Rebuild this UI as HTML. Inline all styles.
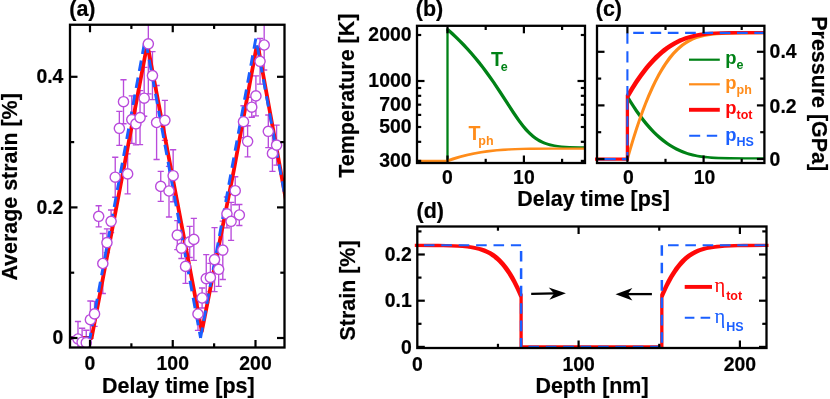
<!DOCTYPE html>
<html><head><meta charset="utf-8"><title>Figure</title>
<style>html,body{margin:0;padding:0;background:#fff;}svg{display:block;transform:translateZ(0);will-change:transform;}text{font-family:"Liberation Sans",sans-serif;}</style></head>
<body>
<svg width="830" height="399" viewBox="0 0 830 399">
<rect x="0" y="0" width="830" height="399" fill="#fff"/>
<clipPath id="ca"><rect x="70" y="24.75" width="214.5" height="322.75"/></clipPath>
<g clip-path="url(#ca)">
<path d="M77.99,321.5V356.5M74.89,321.5H81.09M74.89,356.5H81.09M82.12,328.2V356.2M79.03,328.2H85.22M79.03,356.2H85.22M86.26,330.2V355.2M83.16,330.2H89.36M83.16,355.2H89.36M90.4,301V338.4M87.3,301H93.5M87.3,338.4H93.5M94.54,301.4V326.4M91.44,301.4H97.64M91.44,326.4H97.64M98.68,205.7V226.9M95.58,205.7H101.78M95.58,226.9H101.78M102.81,233.5V293.5M99.71,233.5H105.91M99.71,293.5H105.91M106.95,228.8V252.6M103.85,228.8H110.05M103.85,252.6H110.05M111.09,210V232.6M107.99,210H114.19M107.99,232.6H114.19M115.23,157.2V197.2M112.13,157.2H118.33M112.13,197.2H118.33M119.36,111.3V145.3M116.26,111.3H122.46M116.26,145.3H122.46M123.5,79.7V123.7M120.4,79.7H126.6M120.4,123.7H126.6M127.64,153.9V193.9M124.54,153.9H130.74M124.54,193.9H130.74M131.78,95.8V143.4M128.68,95.8H134.88M128.68,143.4H134.88M135.91,95.8V144.8M132.81,95.8H139.01M132.81,144.8H139.01M140.05,90.6V144.6M136.95,90.6H143.15M136.95,144.6H143.15M144.19,67.4V116.2M141.09,67.4H147.29M141.09,116.2H147.29M148.33,18.8V93.8M145.23,18.8H151.43M145.23,93.8H151.43M152.46,51.6V99.6M149.36,51.6H155.56M149.36,99.6H155.56M156.6,85.5V159.5M153.5,85.5H159.7M153.5,159.5H159.7M160.74,171.4V201.4M157.64,171.4H163.84M157.64,201.4H163.84M164.88,100.3V140.3M161.78,100.3H167.97M161.78,140.3H167.97M169.01,166.4V217M165.91,166.4H172.11M165.91,217H172.11M173.15,149.7V201.7M170.05,149.7H176.25M170.05,201.7H176.25M177.29,220.6V249.6M174.19,220.6H180.39M174.19,249.6H180.39M181.43,234.1V258.5M178.33,234.1H184.53M178.33,258.5H184.53M185.56,249.4V283.4M182.46,249.4H188.66M182.46,283.4H188.66M189.7,226.3V257.5M186.6,226.3H192.8M186.6,257.5H192.8M193.84,218.4V260.4M190.74,218.4H196.94M190.74,260.4H196.94M197.98,297.7V330.3M194.88,297.7H201.08M194.88,330.3H201.08M202.11,288V308M199.01,288H205.21M199.01,308H205.21M206.25,254.6V302.6M203.15,254.6H209.35M203.15,302.6H209.35M210.39,263.4V291.4M207.29,263.4H213.49M207.29,291.4H213.49M214.53,227.6V291.6M211.43,227.6H217.62M211.43,291.6H217.62M218.66,252.3V286.3M215.56,252.3H221.76M215.56,286.3H221.76M222.8,221.1V279.5M219.7,221.1H225.9M219.7,279.5H225.9M226.94,197V227.8M223.84,197H230.04M223.84,227.8H230.04M231.08,202.3V240.3M227.98,202.3H234.18M227.98,240.3H234.18M235.21,176.7V204.7M232.11,176.7H238.31M232.11,204.7H238.31M239.35,204.5V225.5M236.25,204.5H242.45M236.25,225.5H242.45M243.49,105.7V137.7M240.39,105.7H246.59M240.39,137.7H246.59M247.62,125.7V156.9M244.53,125.7H250.72M244.53,156.9H250.72M251.76,97.2V117.2M248.66,97.2H254.86M248.66,117.2H254.86M255.9,75.9V115.9M252.8,75.9H259M252.8,115.9H259M260.04,38.5V84.1M256.94,38.5H263.14M256.94,84.1H263.14M264.18,20V70M261.07,20H267.28M261.07,70H267.28M268.31,115V147.6M265.21,115H271.41M265.21,147.6H271.41M272.45,135.4V171.4M269.35,135.4H275.55M269.35,171.4H275.55M276.59,125.1V165.1M273.49,125.1H279.69M273.49,165.1H279.69" fill="none" stroke="#b94bdc" stroke-width="1.35"/>
<path d="M68,338 L91.6,338 L147.3,44 L201.8,331.5 L233.9,170 L250.4,80 L256.4,47.5 L258.4,48.5 L286,200.3" fill="none" stroke="#ff0808" stroke-width="3.8" stroke-linejoin="round"/>
<path d="M68,338 L90,338 L145.28,38.47" fill="none" stroke="#1a5fff" stroke-width="2.9" stroke-dasharray="10.6 6.7" stroke-dashoffset="0.6" stroke-linejoin="miter"/>
<path d="M145.28,38.47 L200.55,338" fill="none" stroke="#1a5fff" stroke-width="2.9" stroke-dasharray="10.6 6.7" stroke-dashoffset="13.1" stroke-linejoin="miter"/>
<path d="M200.55,338 L255.83,38.47 L288.93,217.83" fill="none" stroke="#1a5fff" stroke-width="2.9" stroke-dasharray="10.6 6.7" stroke-dashoffset="0" stroke-linejoin="miter"/>
<circle cx="77.99" cy="339" r="5.1" fill="#fff" stroke="#b94bdc" stroke-width="1.4"/>
<circle cx="82.12" cy="342.2" r="5.1" fill="#fff" stroke="#b94bdc" stroke-width="1.4"/>
<circle cx="86.26" cy="342.7" r="5.1" fill="#fff" stroke="#b94bdc" stroke-width="1.4"/>
<circle cx="90.4" cy="319.7" r="5.1" fill="#fff" stroke="#b94bdc" stroke-width="1.4"/>
<circle cx="94.54" cy="313.9" r="5.1" fill="#fff" stroke="#b94bdc" stroke-width="1.4"/>
<circle cx="98.68" cy="216.3" r="5.1" fill="#fff" stroke="#b94bdc" stroke-width="1.4"/>
<circle cx="102.81" cy="263.5" r="5.1" fill="#fff" stroke="#b94bdc" stroke-width="1.4"/>
<circle cx="106.95" cy="242.6" r="5.1" fill="#fff" stroke="#b94bdc" stroke-width="1.4"/>
<circle cx="111.09" cy="221.3" r="5.1" fill="#fff" stroke="#b94bdc" stroke-width="1.4"/>
<circle cx="115.23" cy="177.2" r="5.1" fill="#fff" stroke="#b94bdc" stroke-width="1.4"/>
<circle cx="119.36" cy="128.3" r="5.1" fill="#fff" stroke="#b94bdc" stroke-width="1.4"/>
<circle cx="123.5" cy="101.7" r="5.1" fill="#fff" stroke="#b94bdc" stroke-width="1.4"/>
<circle cx="127.64" cy="173.9" r="5.1" fill="#fff" stroke="#b94bdc" stroke-width="1.4"/>
<circle cx="131.78" cy="119.6" r="5.1" fill="#fff" stroke="#b94bdc" stroke-width="1.4"/>
<circle cx="135.91" cy="123.8" r="5.1" fill="#fff" stroke="#b94bdc" stroke-width="1.4"/>
<circle cx="140.05" cy="117.6" r="5.1" fill="#fff" stroke="#b94bdc" stroke-width="1.4"/>
<circle cx="144.19" cy="98.2" r="5.1" fill="#fff" stroke="#b94bdc" stroke-width="1.4"/>
<circle cx="148.33" cy="43.8" r="5.1" fill="#fff" stroke="#b94bdc" stroke-width="1.4"/>
<circle cx="152.46" cy="75.6" r="5.1" fill="#fff" stroke="#b94bdc" stroke-width="1.4"/>
<circle cx="156.6" cy="122.5" r="5.1" fill="#fff" stroke="#b94bdc" stroke-width="1.4"/>
<circle cx="160.74" cy="186.4" r="5.1" fill="#fff" stroke="#b94bdc" stroke-width="1.4"/>
<circle cx="164.88" cy="120.3" r="5.1" fill="#fff" stroke="#b94bdc" stroke-width="1.4"/>
<circle cx="169.01" cy="191" r="5.1" fill="#fff" stroke="#b94bdc" stroke-width="1.4"/>
<circle cx="173.15" cy="175.7" r="5.1" fill="#fff" stroke="#b94bdc" stroke-width="1.4"/>
<circle cx="177.29" cy="235.1" r="5.1" fill="#fff" stroke="#b94bdc" stroke-width="1.4"/>
<circle cx="181.43" cy="248.1" r="5.1" fill="#fff" stroke="#b94bdc" stroke-width="1.4"/>
<circle cx="185.56" cy="266.4" r="5.1" fill="#fff" stroke="#b94bdc" stroke-width="1.4"/>
<circle cx="189.7" cy="241.9" r="5.1" fill="#fff" stroke="#b94bdc" stroke-width="1.4"/>
<circle cx="193.84" cy="239.4" r="5.1" fill="#fff" stroke="#b94bdc" stroke-width="1.4"/>
<circle cx="197.98" cy="314" r="5.1" fill="#fff" stroke="#b94bdc" stroke-width="1.4"/>
<circle cx="202.11" cy="298" r="5.1" fill="#fff" stroke="#b94bdc" stroke-width="1.4"/>
<circle cx="206.25" cy="278.6" r="5.1" fill="#fff" stroke="#b94bdc" stroke-width="1.4"/>
<circle cx="210.39" cy="277.4" r="5.1" fill="#fff" stroke="#b94bdc" stroke-width="1.4"/>
<circle cx="214.53" cy="259.6" r="5.1" fill="#fff" stroke="#b94bdc" stroke-width="1.4"/>
<circle cx="218.66" cy="269.3" r="5.1" fill="#fff" stroke="#b94bdc" stroke-width="1.4"/>
<circle cx="222.8" cy="250.1" r="5.1" fill="#fff" stroke="#b94bdc" stroke-width="1.4"/>
<circle cx="226.94" cy="213.8" r="5.1" fill="#fff" stroke="#b94bdc" stroke-width="1.4"/>
<circle cx="231.08" cy="221.3" r="5.1" fill="#fff" stroke="#b94bdc" stroke-width="1.4"/>
<circle cx="235.21" cy="190.7" r="5.1" fill="#fff" stroke="#b94bdc" stroke-width="1.4"/>
<circle cx="239.35" cy="215" r="5.1" fill="#fff" stroke="#b94bdc" stroke-width="1.4"/>
<circle cx="243.49" cy="121.7" r="5.1" fill="#fff" stroke="#b94bdc" stroke-width="1.4"/>
<circle cx="247.62" cy="141.3" r="5.1" fill="#fff" stroke="#b94bdc" stroke-width="1.4"/>
<circle cx="251.76" cy="107.2" r="5.1" fill="#fff" stroke="#b94bdc" stroke-width="1.4"/>
<circle cx="255.9" cy="95.9" r="5.1" fill="#fff" stroke="#b94bdc" stroke-width="1.4"/>
<circle cx="260.04" cy="61.3" r="5.1" fill="#fff" stroke="#b94bdc" stroke-width="1.4"/>
<circle cx="264.18" cy="45" r="5.1" fill="#fff" stroke="#b94bdc" stroke-width="1.4"/>
<circle cx="268.31" cy="131.3" r="5.1" fill="#fff" stroke="#b94bdc" stroke-width="1.4"/>
<circle cx="272.45" cy="153.4" r="5.1" fill="#fff" stroke="#b94bdc" stroke-width="1.4"/>
<circle cx="276.59" cy="145.1" r="5.1" fill="#fff" stroke="#b94bdc" stroke-width="1.4"/>
</g>
<rect x="70" y="24.75" width="214.5" height="322.75" fill="none" stroke="#000" stroke-width="2.3"/>
<line x1="90" y1="347.5" x2="90" y2="340" stroke="#000" stroke-width="2.2" />
<line x1="90" y1="24.75" x2="90" y2="32.25" stroke="#000" stroke-width="2.2" />
<line x1="172.75" y1="347.5" x2="172.75" y2="340" stroke="#000" stroke-width="2.2" />
<line x1="172.75" y1="24.75" x2="172.75" y2="32.25" stroke="#000" stroke-width="2.2" />
<line x1="255.5" y1="347.5" x2="255.5" y2="340" stroke="#000" stroke-width="2.2" />
<line x1="255.5" y1="24.75" x2="255.5" y2="32.25" stroke="#000" stroke-width="2.2" />
<line x1="131.38" y1="347.5" x2="131.38" y2="343.3" stroke="#000" stroke-width="2.2" />
<line x1="131.38" y1="24.75" x2="131.38" y2="28.95" stroke="#000" stroke-width="2.2" />
<line x1="214.12" y1="347.5" x2="214.12" y2="343.3" stroke="#000" stroke-width="2.2" />
<line x1="214.12" y1="24.75" x2="214.12" y2="28.95" stroke="#000" stroke-width="2.2" />
<line x1="70" y1="338" x2="77.5" y2="338" stroke="#000" stroke-width="2.2" />
<line x1="284.5" y1="338" x2="277" y2="338" stroke="#000" stroke-width="2.2" />
<line x1="70" y1="207.4" x2="77.5" y2="207.4" stroke="#000" stroke-width="2.2" />
<line x1="284.5" y1="207.4" x2="277" y2="207.4" stroke="#000" stroke-width="2.2" />
<line x1="70" y1="76.8" x2="77.5" y2="76.8" stroke="#000" stroke-width="2.2" />
<line x1="284.5" y1="76.8" x2="277" y2="76.8" stroke="#000" stroke-width="2.2" />
<line x1="70" y1="272.7" x2="74.2" y2="272.7" stroke="#000" stroke-width="2.2" />
<line x1="284.5" y1="272.7" x2="280.3" y2="272.7" stroke="#000" stroke-width="2.2" />
<line x1="70" y1="142.1" x2="74.2" y2="142.1" stroke="#000" stroke-width="2.2" />
<line x1="284.5" y1="142.1" x2="280.3" y2="142.1" stroke="#000" stroke-width="2.2" />
<text x="90" y="370" font-size="19.4" text-anchor="middle" fill="#000" stroke="#000" stroke-width="0.2" font-weight="bold" font-family="Liberation Sans" >0</text>
<text x="172.75" y="370" font-size="19.4" text-anchor="middle" fill="#000" stroke="#000" stroke-width="0.2" font-weight="bold" font-family="Liberation Sans" >100</text>
<text x="255.5" y="370" font-size="19.4" text-anchor="middle" fill="#000" stroke="#000" stroke-width="0.2" font-weight="bold" font-family="Liberation Sans" >200</text>
<text x="63.4" y="343.9" font-size="19.4" text-anchor="end" fill="#000" stroke="#000" stroke-width="0.2" font-weight="bold" font-family="Liberation Sans" >0</text>
<text x="63.4" y="214.4" font-size="19.4" text-anchor="end" fill="#000" stroke="#000" stroke-width="0.2" font-weight="bold" font-family="Liberation Sans" >0.2</text>
<text x="63.4" y="82.8" font-size="19.4" text-anchor="end" fill="#000" stroke="#000" stroke-width="0.2" font-weight="bold" font-family="Liberation Sans" >0.4</text>
<text x="69.3" y="15.7" font-size="21.45" text-anchor="start" fill="#000" stroke="#000" stroke-width="0.2" font-weight="bold" font-family="Liberation Sans" >(a)</text>
<text x="178.3" y="393.3" font-size="21.45" text-anchor="middle" fill="#000" stroke="#000" stroke-width="0.2" font-weight="bold" font-family="Liberation Sans" >Delay time [ps]</text>
<text transform="translate(17.1,186.9) rotate(-90)" font-size="21.45" text-anchor="middle" font-weight="bold" font-family="Liberation Sans" fill="#000" stroke="#000" stroke-width="0.2">Average strain [%]</text>
<clipPath id="cb"><rect x="417" y="25.8" width="168" height="137.2"/></clipPath>
<g clip-path="url(#cb)">
<path d="M447.5,161 V29.31" fill="none" stroke="#008216" stroke-width="2.3"/>
<path d="M446.32,28.13L448.68,28.13L453.26,32.28L453.26,34.63L450.91,34.63L446.32,30.48ZM450.91,32.28L453.26,32.28L457.08,35.89L457.08,38.24L454.73,38.24L450.91,34.63ZM454.73,35.89L457.08,35.89L460.9,39.65L460.9,42L458.55,42L454.73,38.24ZM458.55,39.65L460.9,39.65L464.72,43.58L464.72,45.93L462.37,45.93L458.55,42ZM462.37,43.58L464.72,43.58L468.54,47.68L468.54,50.03L466.19,50.03L462.37,45.93ZM466.19,47.68L468.54,47.68L472.36,51.96L472.36,54.31L470.01,54.31L466.19,50.03ZM470.01,51.96L472.36,51.96L476.18,56.43L476.18,58.78L473.83,58.78L470.01,54.31ZM473.83,56.43L476.18,56.43L480,61.1L480,63.45L477.65,63.45L473.83,58.78ZM477.65,61.1L480,61.1L483.82,65.98L483.82,68.33L481.47,68.33L477.65,63.45ZM481.47,65.98L483.82,65.98L486.88,70.04L486.88,72.39L484.52,72.39L481.47,68.33ZM484.52,70.04L486.88,70.04L490.69,75.29L490.69,77.64L488.34,77.64L484.52,72.39ZM488.34,75.29L490.69,75.29L494.51,80.75L494.51,83.1L492.16,83.1L488.34,77.64ZM492.16,80.75L494.51,80.75L501.39,91.03L501.39,93.38L499.04,93.38L492.16,83.1ZM499.04,91.03L501.39,91.03L514.38,111.06L514.38,113.41L512.03,113.41L499.04,93.38ZM512.03,111.06L514.38,111.06L517.43,115.58L517.43,117.93L515.09,117.93L512.03,113.41ZM515.09,115.58L517.43,115.58L520.49,119.91L520.49,122.26L518.14,122.26L515.09,117.93ZM518.14,119.91L520.49,119.91L524.31,124.92L524.31,127.27L521.96,127.27L518.14,122.26ZM521.96,124.92L524.31,124.92L527.37,128.54L527.37,130.89L525.02,130.89L521.96,127.27ZM525.02,128.54L527.37,128.54L529.66,131L529.66,133.35L527.31,133.35L525.02,130.89ZM527.31,131L529.66,131L531.19,132.52L531.19,134.87L528.84,134.87L527.31,133.35ZM528.84,132.52L531.19,132.52L534.24,135.23L534.24,137.58L531.89,137.58L528.84,134.87ZM531.89,135.23L534.24,135.23L536.53,136.99L536.53,139.34L534.19,139.34L531.89,137.58ZM534.19,136.99L536.53,136.99L538.83,138.52L538.83,140.87L536.48,140.87L534.19,139.34ZM536.48,138.52L538.83,138.52L541.12,139.85L541.12,142.2L538.77,142.2L536.48,140.87ZM538.77,139.85L541.12,139.85L543.41,140.98L543.41,143.33L541.06,143.33L538.77,142.2ZM541.06,140.98L543.41,140.98L545.7,141.94L545.7,144.29L543.35,144.29L541.06,143.33ZM543.35,141.94L545.7,141.94L548.76,142.99L548.76,145.34L546.41,145.34L543.35,144.29ZM546.41,142.99L548.76,142.99L551.81,143.81L551.81,146.16L549.47,146.16L546.41,145.34ZM549.47,143.81L551.81,143.81L554.87,144.45L554.87,146.8L552.52,146.8L549.47,146.16ZM552.52,144.45L554.87,144.45L557.93,144.94L557.93,147.29L555.58,147.29L552.52,146.8ZM555.58,144.94L557.93,144.94L561.75,145.39L561.75,147.74L559.4,147.74L555.58,147.29ZM559.4,145.39L561.75,145.39L565.57,145.71L565.57,148.06L563.22,148.06L559.4,147.74ZM563.22,145.71L565.57,145.71L569.39,145.94L569.39,148.29L567.04,148.29L563.22,148.06ZM567.04,145.94L569.39,145.94L579.32,146.27L579.32,148.62L576.97,148.62L567.04,148.29ZM576.97,146.27L579.32,146.27L593.83,146.43L593.83,148.78L591.49,148.78L576.97,148.62Z" fill="#008216" stroke="none"/>
<path d="M413.82,159.72L448.68,159.72L448.68,162.07L413.82,162.07ZM446.32,159.72L452.44,157.6L454.79,157.6L454.79,159.95L448.68,162.07L446.32,162.07ZM452.44,157.6L458.55,155.75L460.9,155.75L460.9,158.1L454.79,159.95L452.44,159.95ZM458.55,155.75L465.43,153.97L467.78,153.97L467.78,156.32L460.9,158.1L458.55,158.1ZM465.43,153.97L472.3,152.47L474.65,152.47L474.65,154.82L467.78,156.32L465.43,156.32ZM472.3,152.47L479.18,151.22L481.53,151.22L481.53,153.57L474.65,154.82L472.3,154.82ZM479.18,151.22L486.82,150.11L489.17,150.11L489.17,152.46L481.53,153.57L479.18,153.57ZM486.82,150.11L494.46,149.24L496.81,149.24L496.81,151.59L489.17,152.46L486.82,152.46ZM494.46,149.24L502.86,148.54L505.21,148.54L505.21,150.89L496.81,151.59L494.46,151.59ZM502.86,148.54L508.97,148.18L511.32,148.18L511.32,150.53L505.21,150.89L502.86,150.89ZM508.97,148.18L515.09,147.91L517.43,147.91L517.43,150.26L511.32,150.53L508.97,150.53ZM515.09,147.91L521.96,147.71L524.31,147.71L524.31,150.06L517.43,150.26L515.09,150.26ZM521.96,147.71L530.37,147.56L532.71,147.56L532.71,149.91L524.31,150.06L521.96,150.06ZM530.37,147.56L549.47,147.44L551.81,147.44L551.81,149.79L532.71,149.91L530.37,149.91ZM549.47,147.44L591.49,147.41L593.83,147.41L593.83,149.76L551.81,149.79L549.47,149.79Z" fill="#ff8c1a" stroke="none"/>
</g>
<rect x="417" y="25.8" width="168" height="137.2" fill="none" stroke="#000" stroke-width="2.3"/>
<line x1="447.5" y1="163" x2="447.5" y2="155.5" stroke="#000" stroke-width="2.2" />
<line x1="447.5" y1="25.8" x2="447.5" y2="33.3" stroke="#000" stroke-width="2.2" />
<line x1="523.9" y1="163" x2="523.9" y2="155.5" stroke="#000" stroke-width="2.2" />
<line x1="523.9" y1="25.8" x2="523.9" y2="33.3" stroke="#000" stroke-width="2.2" />
<line x1="485.7" y1="163" x2="485.7" y2="158.8" stroke="#000" stroke-width="2.2" />
<line x1="485.7" y1="25.8" x2="485.7" y2="30" stroke="#000" stroke-width="2.2" />
<line x1="562.1" y1="163" x2="562.1" y2="158.8" stroke="#000" stroke-width="2.2" />
<line x1="562.1" y1="25.8" x2="562.1" y2="30" stroke="#000" stroke-width="2.2" />
<line x1="417" y1="81" x2="424.5" y2="81" stroke="#000" stroke-width="2.2" />
<line x1="585" y1="81" x2="577.5" y2="81" stroke="#000" stroke-width="2.2" />
<line x1="417" y1="35" x2="421.2" y2="35" stroke="#000" stroke-width="2.2" />
<line x1="585" y1="35" x2="580.8" y2="35" stroke="#000" stroke-width="2.2" />
<line x1="417" y1="87.99" x2="421.2" y2="87.99" stroke="#000" stroke-width="2.2" />
<line x1="585" y1="87.99" x2="580.8" y2="87.99" stroke="#000" stroke-width="2.2" />
<line x1="417" y1="95.81" x2="421.2" y2="95.81" stroke="#000" stroke-width="2.2" />
<line x1="585" y1="95.81" x2="580.8" y2="95.81" stroke="#000" stroke-width="2.2" />
<line x1="417" y1="104.67" x2="421.2" y2="104.67" stroke="#000" stroke-width="2.2" />
<line x1="585" y1="104.67" x2="580.8" y2="104.67" stroke="#000" stroke-width="2.2" />
<line x1="417" y1="114.9" x2="421.2" y2="114.9" stroke="#000" stroke-width="2.2" />
<line x1="585" y1="114.9" x2="580.8" y2="114.9" stroke="#000" stroke-width="2.2" />
<line x1="417" y1="127" x2="421.2" y2="127" stroke="#000" stroke-width="2.2" />
<line x1="585" y1="127" x2="580.8" y2="127" stroke="#000" stroke-width="2.2" />
<line x1="417" y1="141.81" x2="421.2" y2="141.81" stroke="#000" stroke-width="2.2" />
<line x1="585" y1="141.81" x2="580.8" y2="141.81" stroke="#000" stroke-width="2.2" />
<line x1="417" y1="160.9" x2="421.2" y2="160.9" stroke="#000" stroke-width="2.2" />
<line x1="585" y1="160.9" x2="580.8" y2="160.9" stroke="#000" stroke-width="2.2" />
<text x="411.5" y="41" font-size="19.4" text-anchor="end" fill="#000" stroke="#000" stroke-width="0.2" font-weight="bold" font-family="Liberation Sans" >2000</text>
<text x="411.5" y="87" font-size="19.4" text-anchor="end" fill="#000" stroke="#000" stroke-width="0.2" font-weight="bold" font-family="Liberation Sans" >1000</text>
<text x="411.5" y="110.67" font-size="19.4" text-anchor="end" fill="#000" stroke="#000" stroke-width="0.2" font-weight="bold" font-family="Liberation Sans" >700</text>
<text x="411.5" y="133" font-size="19.4" text-anchor="end" fill="#000" stroke="#000" stroke-width="0.2" font-weight="bold" font-family="Liberation Sans" >500</text>
<text x="411.5" y="166.9" font-size="19.4" text-anchor="end" fill="#000" stroke="#000" stroke-width="0.2" font-weight="bold" font-family="Liberation Sans" >300</text>
<text x="447.5" y="183.6" font-size="19.4" text-anchor="middle" fill="#000" stroke="#000" stroke-width="0.2" font-weight="bold" font-family="Liberation Sans" >0</text>
<text x="523.9" y="183.6" font-size="19.4" text-anchor="middle" fill="#000" stroke="#000" stroke-width="0.2" font-weight="bold" font-family="Liberation Sans" >10</text>
<text x="415.8" y="15.9" font-size="21.45" text-anchor="start" fill="#000" stroke="#000" stroke-width="0.2" font-weight="bold" font-family="Liberation Sans" >(b)</text>
<text transform="translate(354.1,95.7) rotate(-90)" font-size="21.45" text-anchor="middle" font-weight="bold" font-family="Liberation Sans" fill="#000" stroke="#000" stroke-width="0.2">Temperature [K]</text>
<text x="593.6" y="205.8" font-size="21.45" text-anchor="middle" fill="#000" stroke="#000" stroke-width="0.2" font-weight="bold" font-family="Liberation Sans" >Delay time [ps]</text>
<text x="491" y="65.9" fill="#008216" font-family="Liberation Sans" font-weight="bold" font-size="19.6"><tspan font-family="Liberation Sans" font-weight="bold">T</tspan><tspan dx="-2.1" dy="4.8" font-size="12.5">e</tspan></text>
<text x="468.4" y="139.85" fill="#ff8c1a" font-family="Liberation Sans" font-weight="bold" font-size="19.6"><tspan font-family="Liberation Sans" font-weight="bold">T</tspan><tspan dx="-2.1" dy="4.8" font-size="12.5">ph</tspan></text>
<clipPath id="cc"><rect x="595" y="25.8" width="169.4" height="137.2"/></clipPath>
<g clip-path="url(#cc)">
<path d="M626.23,95.38L628.57,95.38L631.62,100.44L631.62,102.79L629.27,102.79L626.23,97.73ZM629.27,100.44L631.62,100.44L634.67,105.24L634.67,107.59L632.32,107.59L629.27,102.79ZM632.32,105.24L634.67,105.24L637.72,109.79L637.72,112.14L635.37,112.14L632.32,107.59ZM635.37,109.79L637.72,109.79L641.53,115.12L641.53,117.47L639.18,117.47L635.37,112.14ZM639.18,115.12L641.53,115.12L644.58,119.11L644.58,121.46L642.23,121.46L639.18,117.47ZM642.23,119.11L644.58,119.11L647.62,122.86L647.62,125.21L645.27,125.21L642.23,121.46ZM645.27,122.86L647.62,122.86L650.67,126.37L650.67,128.72L648.32,128.72L645.27,125.21ZM648.32,126.37L650.67,126.37L654.48,130.43L654.48,132.78L652.13,132.78L648.32,128.72ZM652.13,130.43L654.48,130.43L657.53,133.42L657.53,135.77L655.18,135.77L652.13,132.78ZM655.18,133.42L657.53,133.42L661.34,136.85L661.34,139.2L658.99,139.2L655.18,135.77ZM658.99,136.85L661.34,136.85L664.39,139.35L664.39,141.7L662.04,141.7L658.99,139.2ZM662.04,139.35L664.39,139.35L668.2,142.18L668.2,144.53L665.85,144.53L662.04,141.7ZM665.85,142.18L668.2,142.18L671.25,144.21L671.25,146.56L668.9,146.56L665.85,144.53ZM668.9,144.21L671.25,144.21L675.06,146.48L675.06,148.83L672.71,148.83L668.9,146.56ZM672.71,146.48L675.06,146.48L678.1,148.09L678.1,150.44L675.75,150.44L672.71,148.83ZM675.75,148.09L678.1,148.09L681.91,149.85L681.91,152.2L679.57,152.2L675.75,150.44ZM679.57,149.85L681.91,149.85L684.96,151.07L684.96,153.42L682.61,153.42L679.57,152.2ZM682.61,151.07L684.96,151.07L688.01,152.14L688.01,154.49L685.66,154.49L682.61,153.42ZM685.66,152.14L688.01,152.14L691.06,153.06L691.06,155.41L688.71,155.41L685.66,154.49ZM688.71,153.06L691.06,153.06L694.87,154.03L694.87,156.38L692.52,156.38L688.71,155.41ZM692.52,154.03L694.87,154.03L697.92,154.66L697.92,157.01L695.57,157.01L692.52,156.38ZM695.57,154.66L697.92,154.66L701.73,155.31L701.73,157.66L699.38,157.66L695.57,157.01ZM699.38,155.31L701.73,155.31L705.54,155.82L705.54,158.17L703.19,158.17L699.38,157.66ZM703.19,155.82L705.54,155.82L710.11,156.27L710.11,158.62L707.76,158.62L703.19,158.17ZM707.76,156.27L710.11,156.27L713.92,156.54L713.92,158.89L711.57,158.89L707.76,158.62ZM711.57,156.54L713.92,156.54L718.49,156.78L718.49,159.13L716.14,159.13L711.57,158.89ZM716.14,156.78L718.49,156.78L729.92,157.09L729.92,159.44L727.57,159.44L716.14,159.13ZM727.57,157.09L729.92,157.09L745.16,157.22L745.16,159.57L742.81,159.57L727.57,159.44ZM742.81,157.22L745.16,157.22L773.35,157.26L773.35,159.61L771,159.61L742.81,159.57Z" fill="#008216" stroke="none"/>
<path d="M626.23,157.82L629.16,147.54L631.51,147.54L631.51,149.89L628.57,160.18L626.23,160.18ZM629.16,147.54L632.09,137.78L634.44,137.78L634.44,140.13L631.51,149.89L629.16,149.89ZM632.09,137.78L635.02,128.54L637.37,128.54L637.37,130.89L634.44,140.13L632.09,140.13ZM635.02,128.54L638.68,117.69L641.03,117.69L641.03,120.04L637.37,130.89L635.02,130.89ZM638.68,117.69L641.61,109.58L643.96,109.58L643.96,111.93L641.03,120.04L638.68,120.04ZM641.61,109.58L644.54,101.96L646.89,101.96L646.89,104.31L643.96,111.93L641.61,111.93ZM644.54,101.96L647.47,94.82L649.82,94.82L649.82,97.17L646.89,104.31L644.54,104.31ZM647.47,94.82L651.14,86.56L653.49,86.56L653.49,88.91L649.82,97.17L647.47,97.17ZM651.14,86.56L654.07,80.48L656.42,80.48L656.42,82.83L653.49,88.91L651.14,88.91ZM654.07,80.48L657.73,73.51L660.08,73.51L660.08,75.86L656.42,82.83L654.07,82.83ZM657.73,73.51L660.66,68.43L663.01,68.43L663.01,70.78L660.08,75.86L657.73,75.86ZM660.66,68.43L662.13,66.05L664.48,66.05L664.48,68.4L663.01,70.78L660.66,70.78ZM662.13,66.05L664.33,62.67L666.67,62.67L666.67,65.02L664.48,68.4L662.13,68.4ZM664.33,62.67L667.26,58.54L669.61,58.54L669.61,60.89L666.67,65.02L664.33,65.02ZM667.26,58.54L668.72,56.62L671.07,56.62L671.07,58.97L669.61,60.89L667.26,60.89ZM668.72,56.62L670.92,53.92L673.27,53.92L673.27,56.27L671.07,58.97L668.72,58.97ZM670.92,53.92L672.38,52.24L674.73,52.24L674.73,54.59L673.27,56.27L670.92,56.27ZM672.38,52.24L674.58,49.89L676.93,49.89L676.93,52.24L674.73,54.59L672.38,54.59ZM674.58,49.89L676.05,48.44L678.4,48.44L678.4,50.79L676.93,52.24L674.58,52.24ZM676.05,48.44L678.25,46.42L680.6,46.42L680.6,48.77L678.4,50.79L676.05,50.79ZM678.25,46.42L681.18,44.01L683.53,44.01L683.53,46.36L680.6,48.77L678.25,48.77ZM681.18,44.01L684.11,41.92L686.46,41.92L686.46,44.27L683.53,46.36L681.18,46.36ZM684.11,41.92L687.04,40.12L689.39,40.12L689.39,42.47L686.46,44.27L684.11,44.27ZM687.04,40.12L688.5,39.32L690.85,39.32L690.85,41.67L689.39,42.47L687.04,42.47ZM688.5,39.32L690.7,38.24L693.05,38.24L693.05,40.59L690.85,41.67L688.5,41.67ZM690.7,38.24L694.37,36.72L696.72,36.72L696.72,39.07L693.05,40.59L690.7,40.59ZM694.37,36.72L698.03,35.53L700.38,35.53L700.38,37.88L696.72,39.07L694.37,39.07ZM698.03,35.53L701.69,34.6L704.04,34.6L704.04,36.95L700.38,37.88L698.03,37.88ZM701.69,34.6L706.09,33.78L708.44,33.78L708.44,36.13L704.04,36.95L701.69,36.95ZM706.09,33.78L709.75,33.28L712.1,33.28L712.1,35.63L708.44,36.13L706.09,36.13ZM709.75,33.28L714.15,32.85L716.5,32.85L716.5,35.2L712.1,35.63L709.75,35.63ZM714.15,32.85L719.28,32.53L721.63,32.53L721.63,34.88L716.5,35.2L714.15,35.2ZM719.28,32.53L725.14,32.3L727.49,32.3L727.49,34.65L721.63,34.88L719.28,34.88ZM725.14,32.3L731.73,32.15L734.08,32.15L734.08,34.5L727.49,34.65L725.14,34.65ZM731.73,32.15L740.52,32.06L742.87,32.06L742.87,34.41L734.08,34.5L731.73,34.5ZM740.52,32.06L768.83,32L771.17,32L771.17,34.35L742.87,34.41L740.52,34.41Z" fill="#ff8c1a" stroke="none"/>
<path d="M593.85,157.45L629.05,157.45L629.05,160.75L593.85,160.75ZM625.75,94.91L629.05,94.91L629.05,160.75L625.75,160.75ZM625.75,94.91L630.32,87.17L633.62,87.17L633.62,90.47L629.05,98.21L625.75,98.21ZM630.32,87.17L634.89,80.02L638.19,80.02L638.19,83.32L633.62,90.47L630.32,90.47ZM634.89,80.02L637.18,76.67L640.48,76.67L640.48,79.97L638.19,83.32L634.89,83.32ZM637.18,76.67L639.47,73.46L642.77,73.46L642.77,76.76L640.48,79.97L637.18,79.97ZM639.47,73.46L641.75,70.39L645.05,70.39L645.05,73.69L642.77,76.76L639.47,76.76ZM641.75,70.39L644.8,66.52L648.1,66.52L648.1,69.82L645.05,73.69L641.75,73.69ZM644.8,66.52L647.09,63.77L650.39,63.77L650.39,67.07L648.1,69.82L644.8,69.82ZM647.09,63.77L649.37,61.16L652.67,61.16L652.67,64.46L650.39,67.07L647.09,67.07ZM649.37,61.16L651.66,58.69L654.96,58.69L654.96,61.99L652.67,64.46L649.37,64.46ZM651.66,58.69L654.71,55.6L658.01,55.6L658.01,58.9L654.96,61.99L651.66,61.99ZM654.71,55.6L656.99,53.43L660.29,53.43L660.29,56.73L658.01,58.9L654.71,58.9ZM656.99,53.43L660.04,50.74L663.34,50.74L663.34,54.04L660.29,56.73L656.99,56.73ZM660.04,50.74L662.33,48.86L665.63,48.86L665.63,52.16L663.34,54.04L660.04,54.04ZM662.33,48.86L665.37,46.55L668.67,46.55L668.67,49.85L665.63,52.16L662.33,52.16ZM665.37,46.55L669.18,43.95L672.48,43.95L672.48,47.25L668.67,49.85L665.37,49.85ZM669.18,43.95L672.99,41.67L676.29,41.67L676.29,44.97L672.48,47.25L669.18,47.25ZM672.99,41.67L676.8,39.68L680.1,39.68L680.1,42.98L676.29,44.97L672.99,44.97ZM676.8,39.68L679.09,38.62L682.39,38.62L682.39,41.92L680.1,42.98L676.8,42.98ZM679.09,38.62L681.38,37.66L684.68,37.66L684.68,40.96L682.39,41.92L679.09,41.92ZM681.38,37.66L685.19,36.26L688.49,36.26L688.49,39.56L684.68,40.96L681.38,40.96ZM685.19,36.26L689.76,34.88L693.06,34.88L693.06,38.18L688.49,39.56L685.19,39.56ZM689.76,34.88L694.33,33.8L697.63,33.8L697.63,37.1L693.06,38.18L689.76,38.18ZM694.33,33.8L699.66,32.87L702.96,32.87L702.96,36.17L697.63,37.1L694.33,37.1ZM699.66,32.87L704.24,32.28L707.54,32.28L707.54,35.58L702.96,36.17L699.66,36.17ZM704.24,32.28L709.57,31.81L712.87,31.81L712.87,35.11L707.54,35.58L704.24,35.58ZM709.57,31.81L714.9,31.49L718.2,31.49L718.2,34.79L712.87,35.11L709.57,35.11ZM714.9,31.49L721.76,31.25L725.06,31.25L725.06,34.55L718.2,34.79L714.9,34.79ZM721.76,31.25L729.38,31.1L732.68,31.1L732.68,34.4L725.06,34.55L721.76,34.55ZM729.38,31.1L738.53,31.02L741.83,31.02L741.83,34.32L732.68,34.4L729.38,34.4ZM738.53,31.02L770.53,30.96L773.83,30.96L773.83,34.26L741.83,34.32L738.53,34.32Z" fill="#ff0808" stroke="none"/>
<path d="M597,159.1H615.7M622,159.1H627.4M627.4,159.1V152M627.4,145.5V134.2M627.4,126.7V116.3M627.4,109.7V98.5M627.4,95.5V86.1M627.4,80.5V69.2M627.4,62.6V51.3M627.4,43.8V32.9M633.2,32.9H643.9M650.5,32.9H661.2M667.8,32.9H678.5M685.1,32.9H695.8M702.4,32.9H713.1M719.7,32.9H730.4M737,32.9H747.7M754.3,32.9H765" fill="none" stroke="#1a5fff" stroke-width="2.1"/>
</g>
<rect x="597" y="25.8" width="167.4" height="137.2" fill="none" stroke="#000" stroke-width="2.3"/>
<line x1="627.4" y1="163" x2="627.4" y2="155.5" stroke="#000" stroke-width="2.2" />
<line x1="627.4" y1="25.8" x2="627.4" y2="33.3" stroke="#000" stroke-width="2.2" />
<line x1="703.6" y1="163" x2="703.6" y2="155.5" stroke="#000" stroke-width="2.2" />
<line x1="703.6" y1="25.8" x2="703.6" y2="33.3" stroke="#000" stroke-width="2.2" />
<line x1="665.5" y1="163" x2="665.5" y2="158.8" stroke="#000" stroke-width="2.2" />
<line x1="665.5" y1="25.8" x2="665.5" y2="30" stroke="#000" stroke-width="2.2" />
<line x1="741.7" y1="163" x2="741.7" y2="158.8" stroke="#000" stroke-width="2.2" />
<line x1="741.7" y1="25.8" x2="741.7" y2="30" stroke="#000" stroke-width="2.2" />
<line x1="597" y1="159" x2="604.5" y2="159" stroke="#000" stroke-width="2.2" />
<line x1="764.4" y1="159" x2="756.9" y2="159" stroke="#000" stroke-width="2.2" />
<line x1="597" y1="105.4" x2="604.5" y2="105.4" stroke="#000" stroke-width="2.2" />
<line x1="764.4" y1="105.4" x2="756.9" y2="105.4" stroke="#000" stroke-width="2.2" />
<line x1="597" y1="51.8" x2="604.5" y2="51.8" stroke="#000" stroke-width="2.2" />
<line x1="764.4" y1="51.8" x2="756.9" y2="51.8" stroke="#000" stroke-width="2.2" />
<line x1="597" y1="132.2" x2="601.2" y2="132.2" stroke="#000" stroke-width="2.2" />
<line x1="764.4" y1="132.2" x2="760.2" y2="132.2" stroke="#000" stroke-width="2.2" />
<line x1="597" y1="78.6" x2="601.2" y2="78.6" stroke="#000" stroke-width="2.2" />
<line x1="764.4" y1="78.6" x2="760.2" y2="78.6" stroke="#000" stroke-width="2.2" />
<text x="628.4" y="183.6" font-size="19.4" text-anchor="middle" fill="#000" stroke="#000" stroke-width="0.2" font-weight="bold" font-family="Liberation Sans" >0</text>
<text x="704.6" y="183.6" font-size="19.4" text-anchor="middle" fill="#000" stroke="#000" stroke-width="0.2" font-weight="bold" font-family="Liberation Sans" >10</text>
<text x="769.6" y="165.7" font-size="19.4" text-anchor="start" fill="#000" stroke="#000" stroke-width="0.2" font-weight="bold" font-family="Liberation Sans" >0</text>
<text x="769.6" y="112.6" font-size="19.4" text-anchor="start" fill="#000" stroke="#000" stroke-width="0.2" font-weight="bold" font-family="Liberation Sans" >0.2</text>
<text x="769.6" y="57.7" font-size="19.4" text-anchor="start" fill="#000" stroke="#000" stroke-width="0.2" font-weight="bold" font-family="Liberation Sans" >0.4</text>
<text x="595.8" y="15.9" font-size="21.45" text-anchor="start" fill="#000" stroke="#000" stroke-width="0.2" font-weight="bold" font-family="Liberation Sans" >(c)</text>
<text transform="translate(812.4,93.7) rotate(90)" font-size="21.45" text-anchor="middle" font-weight="bold" font-family="Liberation Sans" fill="#000" stroke="#000" stroke-width="0.2">Pressure [GPa]</text>
<line x1="689" y1="59.7" x2="719.8" y2="59.7" stroke="#008216" stroke-width="2.2" />
<line x1="689" y1="84.3" x2="719.8" y2="84.3" stroke="#ff8c1a" stroke-width="2.2" />
<line x1="689" y1="109.8" x2="719.8" y2="109.8" stroke="#ff0808" stroke-width="3.9" />
<path d="M689.2,135.8H700.2M706.8,135.8H717.2" stroke="#1a5fff" stroke-width="2.1" fill="none"/>
<text x="725.3" y="64" fill="#008216" font-family="Liberation Sans" font-weight="bold" font-size="18.4"><tspan font-family="Liberation Sans" font-weight="bold">p</tspan><tspan dx="0" dy="4.8" font-size="12.5">e</tspan></text>
<text x="725.3" y="89.2" fill="#ff8c1a" font-family="Liberation Sans" font-weight="bold" font-size="18.4"><tspan font-family="Liberation Sans" font-weight="bold">p</tspan><tspan dx="0" dy="4.8" font-size="12.5">ph</tspan></text>
<text x="725.3" y="114.4" fill="#ff0808" font-family="Liberation Sans" font-weight="bold" font-size="18.4"><tspan font-family="Liberation Sans" font-weight="bold">p</tspan><tspan dx="0" dy="4.8" font-size="12.5">tot</tspan></text>
<text x="725.3" y="140.7" fill="#1a5fff" font-family="Liberation Sans" font-weight="bold" font-size="18.4"><tspan font-family="Liberation Sans" font-weight="bold">p</tspan><tspan dx="0" dy="4.8" font-size="12.5">HS</tspan></text>
<clipPath id="cd"><rect x="414.8" y="226.5" width="353.7" height="121.5"/></clipPath>
<g clip-path="url(#cd)">
<path d="M412.42,243.67L415.72,243.67L438.31,243.83L438.31,247.13L435.01,247.13L412.42,246.97ZM435.01,243.83L438.31,243.83L446.37,243.96L446.37,247.26L443.07,247.26L435.01,247.13ZM443.07,243.96L446.37,243.96L454.44,244.18L454.44,247.48L451.14,247.48L443.07,247.26ZM451.14,244.18L454.44,244.18L460.89,244.48L460.89,247.78L457.59,247.78L451.14,247.48ZM457.59,244.48L460.89,244.48L465.73,244.81L465.73,248.11L462.43,248.11L457.59,247.78ZM462.43,244.81L465.73,244.81L470.57,245.31L470.57,248.61L467.27,248.61L462.43,248.11ZM467.27,245.31L470.57,245.31L473.79,245.75L473.79,249.05L470.49,249.05L467.27,248.61ZM470.49,245.75L473.79,245.75L478.63,246.68L478.63,249.98L475.33,249.98L470.49,249.05ZM475.33,246.68L478.63,246.68L481.86,247.52L481.86,250.82L478.56,250.82L475.33,249.98ZM478.56,247.52L481.86,247.52L485.08,248.58L485.08,251.88L481.78,251.88L478.56,250.82ZM481.78,248.58L485.08,248.58L488.31,249.91L488.31,253.21L485.01,253.21L481.78,251.88ZM485.01,249.91L488.31,249.91L491.53,251.57L491.53,254.87L488.24,254.87L485.01,253.21ZM488.24,251.57L491.53,251.57L493.15,252.54L493.15,255.84L489.85,255.84L488.24,254.87ZM489.85,252.54L493.15,252.54L494.76,253.61L494.76,256.91L491.46,256.91L489.85,255.84ZM491.46,253.61L494.76,253.61L496.37,254.79L496.37,258.09L493.07,258.09L491.46,256.91ZM493.07,254.79L496.37,254.79L497.99,256.08L497.99,259.38L494.69,259.38L493.07,258.09ZM494.69,256.08L497.99,256.08L499.6,257.5L499.6,260.8L496.3,260.8L494.69,259.38ZM496.3,257.5L499.6,257.5L501.21,259.04L501.21,262.34L497.91,262.34L496.3,260.8ZM497.91,259.04L501.21,259.04L502.83,260.71L502.83,264.01L499.53,264.01L497.91,262.34ZM499.53,260.71L502.83,260.71L504.44,262.53L504.44,265.83L501.14,265.83L499.53,264.01ZM501.14,262.53L504.44,262.53L506.05,264.49L506.05,267.79L502.75,267.79L501.14,265.83ZM502.75,264.49L506.05,264.49L507.66,266.59L507.66,269.89L504.37,269.89L502.75,267.79ZM504.37,266.59L507.66,266.59L509.28,268.86L509.28,272.16L505.98,272.16L504.37,269.89ZM505.98,268.86L509.28,268.86L510.89,271.28L510.89,274.58L507.59,274.58L505.98,272.16ZM507.59,271.28L510.89,271.28L512.5,273.86L512.5,277.16L509.2,277.16L507.59,274.58ZM509.2,273.86L512.5,273.86L514.12,276.62L514.12,279.92L510.82,279.92L509.2,277.16ZM510.82,276.62L514.12,276.62L515.73,279.55L515.73,282.85L512.43,282.85L510.82,279.92ZM512.43,279.55L515.73,279.55L517.34,282.65L517.34,285.95L514.04,285.95L512.43,282.85ZM514.04,282.65L517.34,282.65L518.96,285.94L518.96,289.24L515.66,289.24L514.04,285.95ZM515.66,285.94L518.96,285.94L520.57,289.42L520.57,292.72L517.27,292.72L515.66,289.24ZM517.27,289.42L520.57,289.42L522.75,294.43L522.75,297.73L519.45,297.73L517.27,292.72ZM519.45,294.43L522.75,294.43L522.75,348.65L519.45,348.65ZM519.45,345.35L663.48,345.35L663.48,348.65L519.45,348.65ZM660.18,294.43L663.48,294.43L663.48,348.65L660.18,348.65ZM660.18,294.43L661.79,290.68L665.09,290.68L665.09,293.98L663.48,297.73L660.18,297.73ZM661.79,290.68L663.41,287.13L666.71,287.13L666.71,290.43L665.09,293.98L661.79,293.98ZM663.41,287.13L665.02,283.78L668.32,283.78L668.32,287.08L666.71,290.43L663.41,290.43ZM665.02,283.78L666.63,280.61L669.93,280.61L669.93,283.91L668.32,287.08L665.02,287.08ZM666.63,280.61L668.25,277.62L671.55,277.62L671.55,280.92L669.93,283.91L666.63,283.91ZM668.25,277.62L669.86,274.81L673.16,274.81L673.16,278.11L671.55,280.92L668.25,280.92ZM669.86,274.81L671.47,272.17L674.77,272.17L674.77,275.47L673.16,278.11L669.86,278.11ZM671.47,272.17L673.08,269.69L676.38,269.69L676.38,272.99L674.77,275.47L671.47,275.47ZM673.08,269.69L674.7,267.37L678,267.37L678,270.67L676.38,272.99L673.08,272.99ZM674.7,267.37L676.31,265.21L679.61,265.21L679.61,268.51L678,270.67L674.7,270.67ZM676.31,265.21L677.92,263.2L681.22,263.2L681.22,266.5L679.61,268.51L676.31,268.51ZM677.92,263.2L679.54,261.33L682.84,261.33L682.84,264.63L681.22,266.5L677.92,266.5ZM679.54,261.33L681.15,259.61L684.45,259.61L684.45,262.91L682.84,264.63L679.54,264.63ZM681.15,259.61L682.76,258.02L686.06,258.02L686.06,261.32L684.45,262.91L681.15,262.91ZM682.76,258.02L684.38,256.56L687.68,256.56L687.68,259.86L686.06,261.32L682.76,261.32ZM684.38,256.56L685.99,255.23L689.29,255.23L689.29,258.53L687.68,259.86L684.38,259.86ZM685.99,255.23L687.6,254.01L690.9,254.01L690.9,257.31L689.29,258.53L685.99,258.53ZM687.6,254.01L689.21,252.91L692.51,252.91L692.51,256.21L690.9,257.31L687.6,257.31ZM689.21,252.91L690.83,251.9L694.13,251.9L694.13,255.2L692.51,256.21L689.21,256.21ZM690.83,251.9L694.05,250.18L697.35,250.18L697.35,253.48L694.13,255.2L690.83,255.2ZM694.05,250.18L697.28,248.79L700.58,248.79L700.58,252.09L697.35,253.48L694.05,253.48ZM697.28,248.79L700.51,247.68L703.81,247.68L703.81,250.98L700.58,252.09L697.28,252.09ZM700.51,247.68L703.73,246.81L707.03,246.81L707.03,250.11L703.81,250.98L700.51,250.98ZM703.73,246.81L705.34,246.45L708.64,246.45L708.64,249.75L707.03,250.11L703.73,250.11ZM705.34,246.45L708.57,245.84L711.87,245.84L711.87,249.14L708.64,249.75L705.34,249.75ZM708.57,245.84L711.8,245.38L715.1,245.38L715.1,248.68L711.87,249.14L708.57,249.14ZM711.8,245.38L716.64,244.86L719.94,244.86L719.94,248.16L715.1,248.68L711.8,248.68ZM716.64,244.86L721.47,244.51L724.77,244.51L724.77,247.81L719.94,248.16L716.64,248.16ZM721.47,244.51L727.93,244.2L731.23,244.2L731.23,247.5L724.77,247.81L721.47,247.81ZM727.93,244.2L734.38,244.01L737.68,244.01L737.68,247.31L731.23,247.5L727.93,247.5ZM734.38,244.01L744.06,243.84L747.36,243.84L747.36,247.14L737.68,247.31L734.38,247.31ZM744.06,243.84L769.86,243.66L773.16,243.66L773.16,246.96L747.36,247.14L744.06,247.14Z" fill="#ff0808" stroke="none"/>
<path d="M418.5,245.26 H521.1" fill="none" stroke="#1a5fff" stroke-width="2.1" stroke-dasharray="10.6 6.8" stroke-dashoffset="12"/>
<path d="M521.1,245.26 V346.9" fill="none" stroke="#1a5fff" stroke-width="2.5" stroke-dasharray="10.6 6.8" stroke-dashoffset="116.1"/>
<path d="M521.1,346.9 H661.83" fill="none" stroke="#1a5fff" stroke-width="2.1" stroke-dasharray="10.6 6.8" stroke-dashoffset="10.1"/>
<path d="M661.83,245.26 V346.9" fill="none" stroke="#1a5fff" stroke-width="2.5" stroke-dasharray="10.6 6.8" stroke-dashoffset="0"/>
<path d="M661.83,245.26 H770" fill="none" stroke="#1a5fff" stroke-width="2.1" stroke-dasharray="10.6 6.7" stroke-dashoffset="11.1"/>
</g>
<rect x="417.3" y="226.5" width="349.2" height="121.5" fill="none" stroke="#000" stroke-width="2.3"/>
<line x1="578.6" y1="348" x2="578.6" y2="340.5" stroke="#000" stroke-width="2.2" />
<line x1="578.6" y1="226.5" x2="578.6" y2="234" stroke="#000" stroke-width="2.2" />
<line x1="739.9" y1="348" x2="739.9" y2="340.5" stroke="#000" stroke-width="2.2" />
<line x1="739.9" y1="226.5" x2="739.9" y2="234" stroke="#000" stroke-width="2.2" />
<line x1="497.95" y1="348" x2="497.95" y2="343.8" stroke="#000" stroke-width="2.2" />
<line x1="497.95" y1="226.5" x2="497.95" y2="230.7" stroke="#000" stroke-width="2.2" />
<line x1="659.25" y1="348" x2="659.25" y2="343.8" stroke="#000" stroke-width="2.2" />
<line x1="659.25" y1="226.5" x2="659.25" y2="230.7" stroke="#000" stroke-width="2.2" />
<line x1="417.3" y1="300.7" x2="424.8" y2="300.7" stroke="#000" stroke-width="2.2" />
<line x1="766.5" y1="300.7" x2="759" y2="300.7" stroke="#000" stroke-width="2.2" />
<line x1="417.3" y1="254.5" x2="424.8" y2="254.5" stroke="#000" stroke-width="2.2" />
<line x1="766.5" y1="254.5" x2="759" y2="254.5" stroke="#000" stroke-width="2.2" />
<line x1="417.3" y1="323.8" x2="421.5" y2="323.8" stroke="#000" stroke-width="2.2" />
<line x1="766.5" y1="323.8" x2="762.3" y2="323.8" stroke="#000" stroke-width="2.2" />
<line x1="417.3" y1="277.6" x2="421.5" y2="277.6" stroke="#000" stroke-width="2.2" />
<line x1="766.5" y1="277.6" x2="762.3" y2="277.6" stroke="#000" stroke-width="2.2" />
<line x1="417.3" y1="231.4" x2="421.5" y2="231.4" stroke="#000" stroke-width="2.2" />
<line x1="766.5" y1="231.4" x2="762.3" y2="231.4" stroke="#000" stroke-width="2.2" />
<line x1="417.3" y1="346.9" x2="424.8" y2="346.9" stroke="#000" stroke-width="2.2" />
<line x1="766.5" y1="346.9" x2="759" y2="346.9" stroke="#000" stroke-width="2.2" />
<text x="411.7" y="353.5" font-size="19.4" text-anchor="end" fill="#000" stroke="#000" stroke-width="0.2" font-weight="bold" font-family="Liberation Sans" >0</text>
<text x="411.7" y="307.3" font-size="19.4" text-anchor="end" fill="#000" stroke="#000" stroke-width="0.2" font-weight="bold" font-family="Liberation Sans" >0.1</text>
<text x="411.7" y="261.1" font-size="19.4" text-anchor="end" fill="#000" stroke="#000" stroke-width="0.2" font-weight="bold" font-family="Liberation Sans" >0.2</text>
<text x="417.3" y="371" font-size="19.4" text-anchor="middle" fill="#000" stroke="#000" stroke-width="0.2" font-weight="bold" font-family="Liberation Sans" >0</text>
<text x="578.6" y="371" font-size="19.4" text-anchor="middle" fill="#000" stroke="#000" stroke-width="0.2" font-weight="bold" font-family="Liberation Sans" >100</text>
<text x="739.9" y="371" font-size="19.4" text-anchor="middle" fill="#000" stroke="#000" stroke-width="0.2" font-weight="bold" font-family="Liberation Sans" >200</text>
<text x="416.6" y="217.9" font-size="21.45" text-anchor="start" fill="#000" stroke="#000" stroke-width="0.2" font-weight="bold" font-family="Liberation Sans" >(d)</text>
<text transform="translate(355.3,290.5) rotate(-90)" font-size="21.45" text-anchor="middle" font-weight="bold" font-family="Liberation Sans" fill="#000" stroke="#000" stroke-width="0.2">Strain [%]</text>
<text x="592" y="393.3" font-size="21.45" text-anchor="middle" fill="#000" stroke="#000" stroke-width="0.2" font-weight="bold" font-family="Liberation Sans" >Depth [nm]</text>
<path d="M531.2,293.9 L554.5,293.3" stroke="#000" stroke-width="2.3" fill="none"/>
<path d="M565.9,293.2 L548.7,287.4 L554.1,293.4 L549.4,299.7 Z" fill="#000"/>
<path d="M651.9,294.1 L627.5,294.1" stroke="#000" stroke-width="2.3" fill="none"/>
<path d="M615.5,294.3 L632.4,288 L627.7,294.1 L632.4,300.4 Z" fill="#000"/>
<line x1="684.7" y1="286.9" x2="712" y2="286.9" stroke="#ff0808" stroke-width="3.9" />
<path d="M684.8,317.7H694.4M700.6,317.7H710.2" stroke="#1a5fff" stroke-width="2.1" fill="none"/>
<text x="714.6" y="292.1" fill="#ff0808" font-family="Liberation Sans" font-weight="bold" font-size="20.5"><tspan font-family="Liberation Serif" font-weight="normal">&#951;</tspan><tspan dx="0.8" dy="7.7" font-size="12.5">tot</tspan></text>
<text x="714.6" y="323.2" fill="#1a5fff" font-family="Liberation Sans" font-weight="bold" font-size="20.5"><tspan font-family="Liberation Serif" font-weight="normal">&#951;</tspan><tspan dx="0.8" dy="7.7" font-size="12.5">HS</tspan></text>
</svg>
</body></html>
